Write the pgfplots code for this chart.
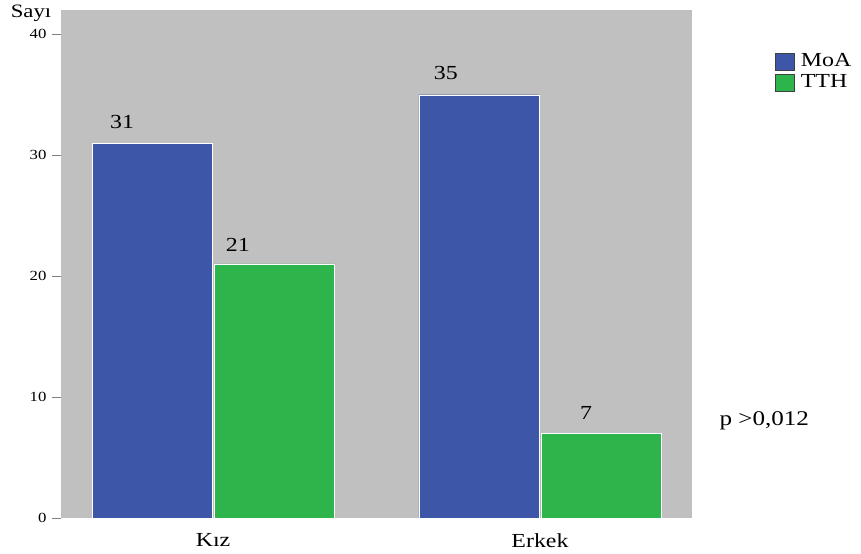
\documentclass[border=0pt]{standalone}
\usepackage{pgfplots}
\pgfplotsset{compat=1.18}
\usepackage{fontspec}
\setmainfont[FakeStretch=1.2]{Liberation Serif}
\definecolor{bgray}{RGB}{192,192,192}
\definecolor{moa}{RGB}{62,86,168}
\definecolor{tth}{RGB}{45,180,74}
\begin{document}
\begin{tikzpicture}
\begin{axis}[
  name=ax,
  scale only axis,
  width=631bp, height=508bp,
  xmin=-0.465, xmax=1.465,
  ymin=0, ymax=42,
  axis background/.style={fill=bgray},
  axis line style={draw=none},
  ybar, bar width=120bp, bar shift auto,
  xtick={0,1}, xticklabels={Kız,Erkek},
  xtick style={draw=none},
  xticklabel style={font=\fontsize{20}{22}\selectfont, yshift=-3bp},
  ytick={0,10,20,30,40},
  ytick pos=left,
  tick align=outside,
  major tick length=9bp,
  ytick style={draw=gray, line width=0.6pt},
  yticklabel style={font=\fontsize{14}{16}\selectfont, xshift=-2bp},
  /pgf/number format/assume math mode=true,
  legend style={at={(1.1315,0.915)}, anchor=north west, draw=none, fill=none,
    font=\fontsize{20}{22}\selectfont, inner sep=0pt, row sep=3bp,
    nodes={inner sep=0pt, text height=13bp, text depth=4bp},
    legend cell align=left},
  legend image code/.code={\draw[#1, draw=black!75, line width=0.7pt] (0bp,-8.5bp) rectangle (19bp,8.5bp);},
  clip=false,
]
\addplot[fill=moa, draw=white, line width=0.3pt] coordinates {(0,31) (1,35)};
\addlegendentry{\hspace{6bp}MoA}
\addplot[fill=tth, draw=white, line width=0.3pt] coordinates {(0,21) (1,7)};
\addlegendentry{\hspace{6bp}TTH}
\node[font=\fontsize{20}{22}\selectfont] at (axis cs:-0.278,32.7) {31};
\node[font=\fontsize{20}{22}\selectfont] at (axis cs:0.076,22.6) {21};
\node[font=\fontsize{20}{22}\selectfont] at (axis cs:0.712,36.8) {35};
\node[font=\fontsize{20}{22}\selectfont] at (axis cs:1.141,8.7) {7};
\end{axis}
\node[font=\fontsize{19}{21}\selectfont, anchor=center] at ([shift={(-30bp,-3bp)}]ax.north west) {Sayı};
\node[font=\fontsize{21}{23}\selectfont, anchor=west] at ([shift={(655bp,97bp)}]ax.south west) {p >0,012};
\pgfresetboundingbox
\path ([shift={(-61bp,-36bp)}]ax.south west) rectangle ([shift={(800bp,518bp)}]ax.south west);
\end{tikzpicture}
\end{document}
